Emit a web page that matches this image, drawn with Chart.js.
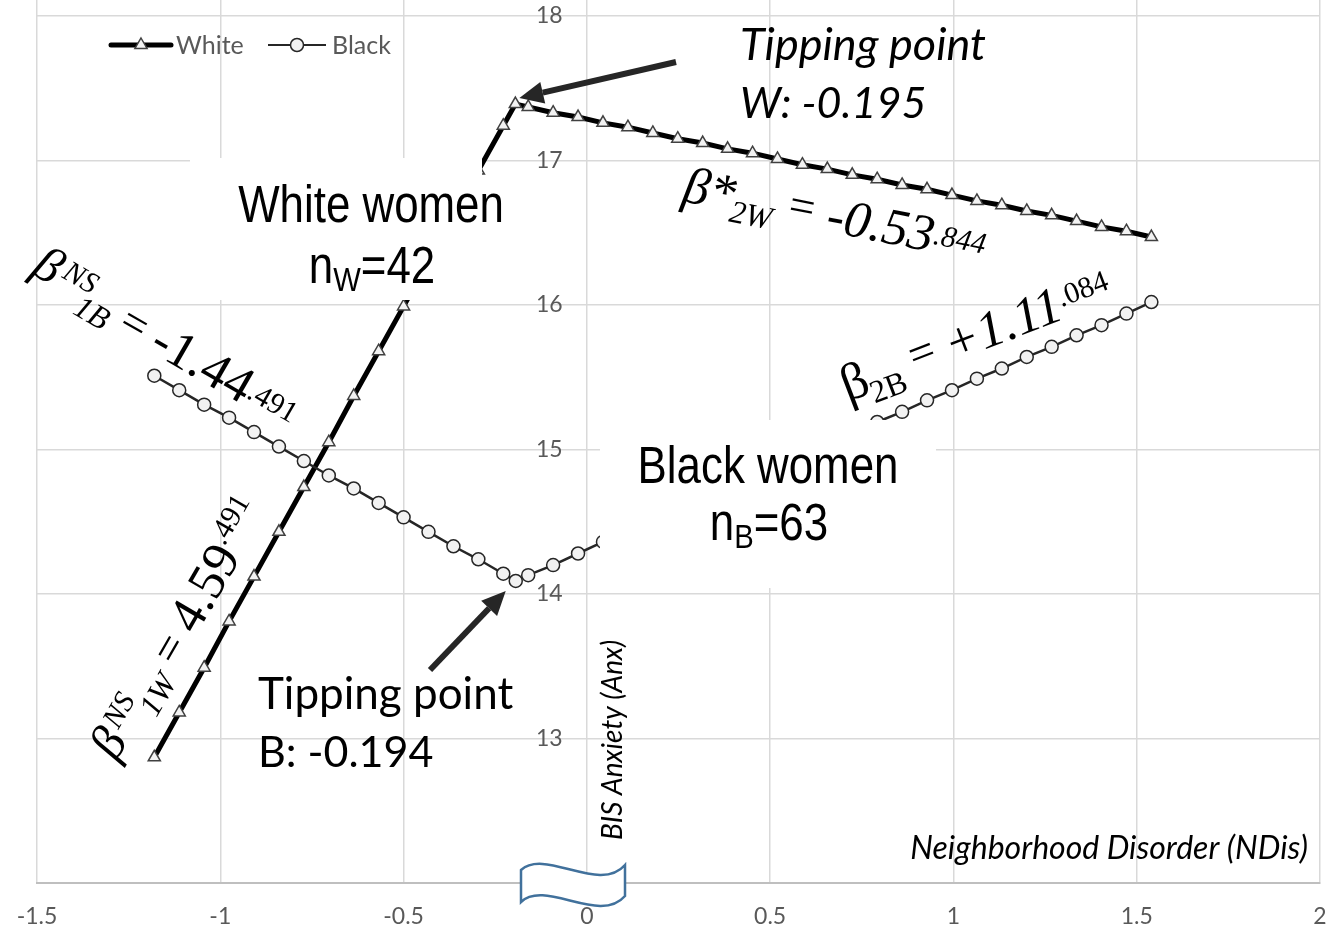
<!DOCTYPE html>
<html>
<head>
<meta charset="utf-8">
<script src="https://cdn.jsdelivr.net/npm/chart.js@4.4.1/dist/chart.umd.min.js"></script>
<style>
  html, body { margin: 0; padding: 0; background: #fff; }
  #wrap { width: 1330px; height: 931px; }
</style>
</head>
<body>
<div id="wrap"><canvas id="grafica" width="1330" height="931"></canvas></div>
<script>
// datos
const xTicks = [-1.5, -1, -0.5, 0, 0.5, 1, 1.5, 2];
const yTicks = [12, 13, 14, 15, 16, 17, 18];

const tipW = -0.195;
const tipB = -0.194;

const xWhite = [-1.18, -1.112, -1.044, -0.976, -0.908, -0.84, -0.772, -0.704, -0.636, -0.568, -0.5, -0.432, -0.364, -0.296, -0.228,
  -0.195,
  -0.16, -0.092, -0.024, 0.044, 0.112, 0.18, 0.248, 0.316, 0.384, 0.452, 0.52, 0.588, 0.656, 0.724, 0.792, 0.86, 0.928,
  0.996, 1.064, 1.132, 1.2, 1.268, 1.336, 1.404, 1.472, 1.54];
const yWhite = [12.87, 13.18, 13.49, 13.81, 14.12, 14.43, 14.74, 15.05, 15.37, 15.68, 15.99, 16.30, 16.62, 16.93, 17.24,
  17.39,
  17.37, 17.33, 17.30, 17.26, 17.23, 17.19, 17.15, 17.12, 17.08, 17.05, 17.01, 16.97, 16.94, 16.90, 16.87, 16.83, 16.80,
  16.76, 16.72, 16.69, 16.65, 16.62, 16.58, 16.54, 16.51, 16.47];

const xBlack = [-1.18, -1.112, -1.044, -0.976, -0.908, -0.84, -0.772, -0.704, -0.636, -0.568, -0.5, -0.432, -0.364, -0.296, -0.228,
  -0.194,
  -0.16, -0.092, -0.024, 0.044, 0.112, 0.18, 0.248, 0.316, 0.384, 0.452, 0.52, 0.588, 0.656, 0.724, 0.792, 0.86, 0.928,
  0.996, 1.064, 1.132, 1.2, 1.268, 1.336, 1.404, 1.472, 1.54];
const yBlack = [15.51, 15.41, 15.31, 15.22, 15.12, 15.02, 14.92, 14.82, 14.73, 14.63, 14.53, 14.43, 14.33, 14.24, 14.14,
  14.09,
  14.13, 14.20, 14.28, 14.36, 14.43, 14.51, 14.58, 14.66, 14.73, 14.81, 14.88, 14.96, 15.03, 15.11, 15.19, 15.26, 15.34,
  15.41, 15.49, 15.56, 15.64, 15.71, 15.79, 15.86, 15.94, 16.02];

const SERIF = '"Liberation Serif", serif';
const ARIAL = '"Liberation Sans", Arial, sans-serif';
const LATO = 'Lato, sans-serif';

function puntos(xs, ys) {
    return xs.map((x, i) => ({ x: x, y: ys[i] }));
}

// texto con partes (subindices, superindices) girado
function textoGirado(ctx, x, y, grados, partes) {
    ctx.save();
    ctx.translate(x, y);
    ctx.rotate(grados * Math.PI / 180);
    ctx.textAlign = 'left';
    ctx.textBaseline = 'alphabetic';
    ctx.fillStyle = '#000';
    let u = 0;
    partes.forEach(p => {
        ctx.font = p[1];
        u += (p[3] || 0);
        ctx.fillText(p[0], u, p[2]);
        u += ctx.measureText(p[0]).width;
    });
    ctx.restore();
}

// texto Arial algo estrecho, centrado
function textoCentrado(ctx, cx, y, partes) {
    ctx.save();
    ctx.translate(cx, y);
    ctx.scale(0.86, 1);
    ctx.textAlign = 'left';
    ctx.textBaseline = 'alphabetic';
    ctx.fillStyle = '#000';
    let total = 0;
    partes.forEach(p => { ctx.font = p[1] + 'px ' + ARIAL; total += ctx.measureText(p[0]).width; });
    let u = -total / 2;
    partes.forEach(p => {
        ctx.font = p[1] + 'px ' + ARIAL;
        ctx.fillText(p[0], u, p[2]);
        u += ctx.measureText(p[0]).width;
    });
    ctx.restore();
}

function flecha(ctx, x1, y1, x2, y2) {
    const ang = Math.atan2(y2 - y1, x2 - x1);
    const largo = 24, ancho = 11;
    const bx = x2 - largo * Math.cos(ang), by = y2 - largo * Math.sin(ang);
    ctx.save();
    ctx.strokeStyle = '#262626';
    ctx.fillStyle = '#262626';
    ctx.lineWidth = 6;
    ctx.beginPath();
    ctx.moveTo(x1, y1);
    ctx.lineTo(bx, by);
    ctx.stroke();
    ctx.beginPath();
    ctx.moveTo(x2, y2);
    ctx.lineTo(bx + ancho * Math.sin(ang), by - ancho * Math.cos(ang));
    ctx.lineTo(bx - ancho * Math.sin(ang), by + ancho * Math.cos(ang));
    ctx.closePath();
    ctx.fill();
    ctx.restore();
}

function triangulo(ctx, x, y, r) {
    ctx.beginPath();
    ctx.moveTo(x, y - r);
    ctx.lineTo(x + r * 0.866, y + r * 0.5);
    ctx.lineTo(x - r * 0.866, y + r * 0.5);
    ctx.closePath();
}

const anotaciones = {
    id: 'anotaciones',
    afterDraw(chart) {
        const ctx = chart.ctx;
        const sx = chart.scales.x, sy = chart.scales.y;

        // cajas blancas de las etiquetas
        ctx.save();
        ctx.fillStyle = '#fff';
        ctx.fillRect(190, 158, 292, 142);
        ctx.fillRect(600, 420, 336, 168);
        ctx.restore();

        textoCentrado(ctx, 371, 222, [['White women', 51, 0]]);
        textoCentrado(ctx, 372, 283, [['n', 51, 0], ['W', 34, 8], ['=42', 51, 0]]);
        textoCentrado(ctx, 768, 483, [['Black women', 51, 0]]);
        textoCentrado(ctx, 769, 540, [['n', 51, 0], ['B', 34, 8], ['=63', 51, 0]]);

        // formulas de pendientes
        textoGirado(ctx, 30, 273, 30, [
            ['β', 'italic 50px ' + SERIF, 0],
            ['NS', 'italic 30px ' + SERIF, -12, 4],
            ['1B', 'italic 32px ' + SERIF, 14, -8],
            [' = ', '46px ' + SERIF, 6],
            ['-1.44', '52px ' + SERIF, 8],
            ['.491', '30px ' + SERIF, 0]
        ]);
        textoGirado(ctx, 116, 762, -60, [
            ['β', 'italic 50px ' + SERIF, 0],
            ['NS', 'italic 30px ' + SERIF, -14, 4],
            ['1W', 'italic 32px ' + SERIF, 13, -6],
            [' = ', '46px ' + SERIF, 4],
            ['4.59', '52px ' + SERIF, 6],
            ['.491', '30px ' + SERIF, -14]
        ]);
        textoGirado(ctx, 681, 201, 11, [
            ['β*', 'italic 52px ' + SERIF, 0],
            ['2W', 'italic 32px ' + SERIF, 11, -2],
            [' = ', 'italic 46px ' + SERIF, -3],
            ['-0.53', 'italic 52px ' + SERIF, 2],
            ['.844', 'italic 30px ' + SERIF, -6]
        ]);
        textoGirado(ctx, 848, 402, -21, [
            ['β', '52px ' + SERIF, 0],
            ['2B', '32px ' + SERIF, 11, -2],
            [' = ', '46px ' + SERIF, -5],
            ['+1.11', 'italic 52px ' + SERIF, 0],
            ['.084', '30px ' + SERIF, -12]
        ]);

        // tipping points
        ctx.save();
        ctx.fillStyle = '#000';
        ctx.textAlign = 'left';
        ctx.textBaseline = 'alphabetic';
        ctx.font = 'italic 45px ' + LATO;
        ctx.fillText('Tipping point', 740, 60);
        ctx.font = 'italic 43px ' + LATO;
        ctx.fillText('W: -0.195', 740, 118);
        ctx.font = '44px ' + LATO;
        ctx.fillText('Tipping point', 258, 709);
        ctx.font = '43px ' + LATO;
        ctx.fillText('B: -0.194', 258, 767);
        ctx.restore();

        const pw = { x: sx.getPixelForValue(tipW), y: sy.getPixelForValue(17.39) };
        const pb = { x: sx.getPixelForValue(tipB), y: sy.getPixelForValue(14.09) };
        flecha(ctx, 676, 62, pw.x + 4, pw.y - 6);
        flecha(ctx, 430, 670, pb.x - 10, pb.y + 10);

        // titulos de ejes
        ctx.save();
        ctx.fillStyle = '#000';
        ctx.font = 'italic 32px ' + LATO;
        ctx.textAlign = 'right';
        ctx.textBaseline = 'alphabetic';
        ctx.fillText('Neighborhood Disorder (NDis)', 1308, 859);
        ctx.font = 'italic 28px ' + LATO;
        ctx.translate(622, 840);
        ctx.rotate(-Math.PI / 2);
        ctx.textAlign = 'left';
        ctx.fillText('BIS Anxiety (Anx)', 0, 0);
        ctx.restore();

        // leyenda
        ctx.save();
        ctx.strokeStyle = '#000';
        ctx.lineWidth = 5;
        ctx.lineCap = 'round';
        ctx.beginPath(); ctx.moveTo(111, 45); ctx.lineTo(171, 45); ctx.stroke();
        triangulo(ctx, 141, 45, 7);
        ctx.fillStyle = '#f2f2f2'; ctx.fill();
        ctx.lineWidth = 1.5; ctx.strokeStyle = '#404040'; ctx.stroke();
        ctx.strokeStyle = '#262626';
        ctx.lineWidth = 2;
        ctx.lineCap = 'butt';
        ctx.beginPath(); ctx.moveTo(268, 45); ctx.lineTo(326, 45); ctx.stroke();
        ctx.beginPath(); ctx.arc(297, 45, 6.5, 0, Math.PI * 2);
        ctx.fillStyle = '#f2f2f2'; ctx.fill();
        ctx.lineWidth = 1.5; ctx.stroke();
        ctx.fillStyle = '#595959';
        ctx.font = '25px ' + LATO;
        ctx.textBaseline = 'middle';
        ctx.fillText('White', 176, 46);
        ctx.fillText('Black', 332, 46);
        ctx.restore();

        // simbolo de corte del eje
        ctx.save();
        ctx.beginPath();
        ctx.moveTo(521, 870);
        ctx.bezierCurveTo(545, 848, 600, 894, 625, 865);
        ctx.lineTo(625, 896);
        ctx.bezierCurveTo(600, 925, 545, 879, 521, 902);
        ctx.closePath();
        ctx.fillStyle = '#fff';
        ctx.fill();
        ctx.strokeStyle = '#41719c';
        ctx.lineWidth = 2.5;
        ctx.stroke();
        ctx.restore();
    }
};

const ctx = document.getElementById('grafica').getContext('2d');

const chart = new Chart(ctx, {
    type: 'scatter',
    data: {
        datasets: [{
            label: 'Black',
            data: puntos(xBlack, yBlack),
            showLine: true,
            borderColor: '#262626',
            borderWidth: 2.5,
            pointStyle: 'circle',
            pointRadius: 6.5,
            pointBackgroundColor: '#f2f2f2',
            pointBorderColor: '#262626',
            pointBorderWidth: 1.5
        }, {
            label: 'White',
            data: puntos(xWhite, yWhite),
            showLine: true,
            borderColor: '#000',
            borderWidth: 5,
            pointStyle: 'triangle',
            pointRadius: 7,
            pointBackgroundColor: '#f2f2f2',
            pointBorderColor: '#404040',
            pointBorderWidth: 1.5
        }]
    },
    options: {
        responsive: false,
        animation: false,
        devicePixelRatio: 1,
        layout: { autoPadding: false, padding: { left: 37, right: 10, top: 0, bottom: 0 } },
        plugins: { legend: { display: false }, tooltip: { enabled: false } },
        scales: {
            x: {
                type: 'linear', min: -1.5, max: 2,
                afterBuildTicks: s => { s.ticks = xTicks.map(v => ({ value: v })); },
                afterFit: s => { s.height = 48; s.paddingLeft = 0; s.paddingRight = 0; },
                grid: { color: '#d9d9d9', lineWidth: 1.5, drawTicks: false },
                border: { color: '#bfbfbf', width: 2 },
                ticks: { color: '#595959', font: { family: LATO, size: 23 }, padding: 20, maxRotation: 0, autoSkip: false,
                    callback: v => String(v) }
            },
            y: {
                type: 'linear', min: 12, max: 18.11,
                // etiquetas a la izquierda del eje en x = 0 (el eje se dibuja con la rejilla)
                position: { x: -0.066 },
                afterBuildTicks: s => { s.ticks = yTicks.map(v => ({ value: v })); },
                afterFit: s => { s.paddingTop = 0; s.paddingBottom = 0; },
                grid: { color: '#d9d9d9', lineWidth: 1.5, drawTicks: false },
                border: { display: false },
                ticks: { color: '#595959', font: { family: LATO, size: 23 }, padding: 0, autoSkip: false,
                    callback: v => v === 12 ? '' : String(v) }
            }
        }
    },
    plugins: [anotaciones]
});
</script>
</body>
</html>
